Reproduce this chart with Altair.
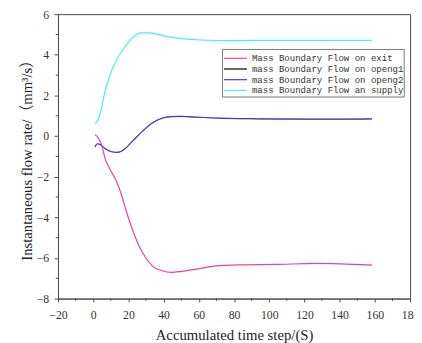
import altair as alt
import pandas as pd

# ---- data ----
series_names = [
    "Mass Boundary Flow on exit",
    "mass Boundary Flow on openg1",
    "mass Boundary Flow on openg2",
    "mass Boundary Flow an supply",
]
series_colors = ["#F0409C", "#000000", "#3A3AD8", "#3FF2F2"]

exit_x = [1.0, 2.8, 4.7, 6.6, 9.4, 13.0, 15.8, 18.6, 22.3, 26.1, 29.8, 33.5, 39.1, 44.6,
          50.2, 58.6, 69.7, 84.6, 103.1, 127.2, 140.3, 158.4]
exit_y = [0.07, -0.09, -0.41, -1.06, -1.62, -2.19, -2.83, -3.64, -4.61, -5.42, -5.98, -6.39,
          -6.63, -6.71, -6.66, -6.55, -6.39, -6.34, -6.32, -6.27, -6.29, -6.35]

openg1_x = [1.0, 2.3, 3.8, 6.6, 10.3, 14.0, 17.7, 22.3, 27.9, 33.5, 39.1, 44.6, 50.2, 58.6,
            71.5, 93.8, 121.7, 140.3, 158.4]
openg1_y = [-0.54, -0.38, -0.41, -0.60, -0.77, -0.80, -0.65, -0.25, 0.23, 0.64, 0.88, 0.96,
            0.97, 0.93, 0.88, 0.85, 0.83, 0.83, 0.85]

openg2_x = [1.0, 2.3, 3.8, 6.6, 10.3, 14.0, 17.7, 22.3, 27.9, 33.5, 39.1, 44.6, 50.2, 58.6,
            71.5, 93.8, 121.7, 140.3, 158.4]
openg2_y = [-0.54, -0.38, -0.41, -0.60, -0.77, -0.80, -0.65, -0.25, 0.23, 0.64, 0.88, 0.96,
            0.97, 0.93, 0.88, 0.85, 0.83, 0.83, 0.85]

supply_x = [1.0, 2.8, 4.7, 6.6, 9.4, 13.0, 17.7, 22.3, 27.0, 31.6, 40.9, 50.2, 61.3, 77.1,
            100.0, 130.0, 158.4]
supply_y = [0.59, 0.80, 1.36, 2.17, 2.98, 3.71, 4.35, 4.84, 5.08, 5.08, 4.92, 4.80, 4.73,
            4.70, 4.71, 4.71, 4.71]

x_major = [-20, 0, 20, 40, 60, 80, 100, 120, 140, 160, 180]
x_minor = [-10, 10, 30, 50, 70, 90, 110, 130, 150, 170]
y_major = [-8, -6, -4, -2, 0, 2, 4, 6]
y_minor = [-7, -5, -3, -1, 1, 3, 5]

# ---- tables ----
def frame(name, xs, ys):
    return pd.DataFrame({"x": xs, "y": ys, "series": name})

df_back = frame(series_names[1], openg1_x, openg1_y)
df_front = pd.concat([
    frame(series_names[3], supply_x, supply_y),
    frame(series_names[2], openg2_x, openg2_y),
    frame(series_names[0], exit_x, exit_y),
], ignore_index=True)

W, H = 359, 290
SERIF = "Liberation Serif, Noto Sans CJK SC"
FRAME = "#4a4a4a"

x_scale = alt.Scale(domain=[-20, 180], nice=False, zero=False)
y_scale = alt.Scale(domain=[-8, 6], nice=False, zero=False)
color_scale = alt.Scale(domain=series_names, range=series_colors)

x_axis = alt.Axis(values=x_major, title="Accumulated time step/(S)", grid=False,
                  tickSize=3.5, labelPadding=8, labelFlush=False, labelOverlap=False,
                  titlePadding=7.5)
y_axis = alt.Axis(values=y_major, title="Instantaneous flow rate/（mm³/s）", grid=False,
                  tickSize=4, labelPadding=5.5, labelFlush=False, labelOverlap=False,
                  titlePadding=2)


def line_layer(data, sw):
    return alt.Chart(data).mark_line(strokeWidth=sw, interpolate="monotone").encode(
        x=alt.X("x:Q", scale=x_scale, axis=x_axis),
        y=alt.Y("y:Q", scale=y_scale, axis=y_axis),
        color=alt.Color("series:N", scale=color_scale, legend=None),
    )

minor_x = alt.Chart(pd.DataFrame({"v": x_minor})).mark_rule(color=FRAME, strokeWidth=1).encode(
    x=alt.X("v:Q", scale=x_scale, axis=x_axis), y=alt.value(H), y2=alt.value(H + 2.3))
minor_y = alt.Chart(pd.DataFrame({"v": y_minor})).mark_rule(color=FRAME, strokeWidth=1).encode(
    y=alt.Y("v:Q", scale=y_scale, axis=y_axis), x=alt.value(0), x2=alt.value(-2.3))

# ---- legend box (drawn in pixel space of the plot area) ----
LX0, LX1, LY0, LY1 = 167.7, 353.0, 36.0, 84.5
ROW0, ROWSTEP = 45.0, 10.9
legend_layers = [
    alt.Chart(pd.DataFrame({"k": [0]})).mark_rect(fill="white", stroke="#777", strokeWidth=1).encode(
        x=alt.value(LX0), x2=alt.value(LX1), y=alt.value(LY0), y2=alt.value(LY1))
]
for i, (name, col) in enumerate(zip(series_names, series_colors)):
    yy = ROW0 + ROWSTEP * i
    row = pd.DataFrame({"name": [name]})
    legend_layers.append(
        alt.Chart(row).mark_rule(color=col, strokeWidth=1.2).encode(
            x=alt.value(LX0 + 1.6), x2=alt.value(LX0 + 25), y=alt.value(yy)))
    legend_layers.append(
        alt.Chart(row).mark_text(align="left", baseline="middle", font="Liberation Mono",
                                 fontSize=9.2, color="#333").encode(
            x=alt.value(LX0 + 30), y=alt.value(yy), text="name:N"))

chart = alt.layer(line_layer(df_back, 0.5), line_layer(df_front, 1.2), minor_x, minor_y,
                  *legend_layers).properties(
    width=W, height=H,
    autosize=alt.AutoSizeParams(type="none"),
    padding={"left": 51, "top": 3, "right": 4, "bottom": 42},
).configure_view(
    stroke=FRAME, strokeWidth=1
).configure_axis(
    domainColor=FRAME, tickColor=FRAME, labelFont=SERIF, labelFontSize=12,
    labelColor="#333", titleFont=SERIF, titleFontSize=15, titleFontWeight="normal",
    titleColor="#222"
)

chart.save("out.html", embed_options={"renderer": "svg", "actions": False})
